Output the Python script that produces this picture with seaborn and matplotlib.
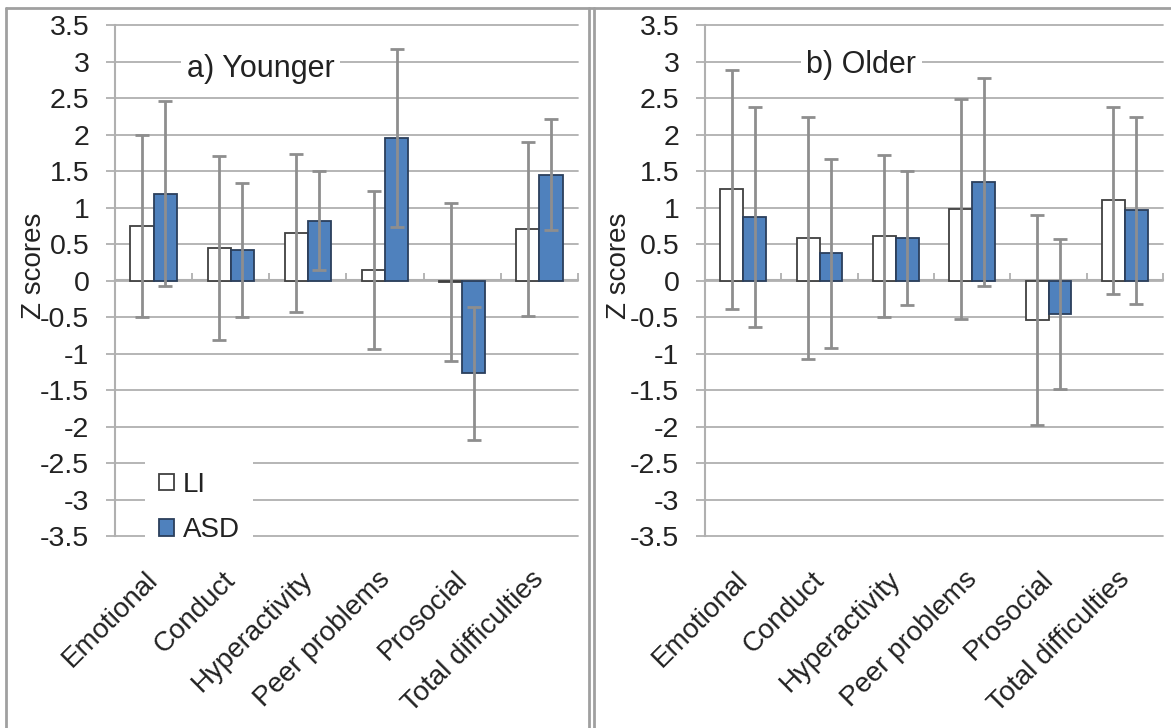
import matplotlib
matplotlib.use("Agg")
import pandas as pd
import seaborn as sns
from matplotlib import pyplot as plt
from matplotlib.patches import Patch
from matplotlib.lines import Line2D
from matplotlib.transforms import ScaledTranslation

categories = ["Emotional", "Conduct", "Hyperactivity", "Peer problems", "Prosocial", "Total difficulties"]
groups = ["LI", "ASD"]

younger_li = [0.75, 0.44, 0.65, 0.14, -0.02, 0.71]
younger_li_err = [1.25, 1.26, 1.08, 1.08, 1.08, 1.19]
younger_asd = [1.19, 0.42, 0.82, 1.95, -1.27, 1.45]
younger_asd_err = [1.27, 0.92, 0.68, 1.22, 0.91, 0.76]

older_li = [1.25, 0.58, 0.61, 0.98, -0.54, 1.10]
older_li_err = [1.64, 1.66, 1.11, 1.51, 1.44, 1.28]
older_asd = [0.87, 0.37, 0.58, 1.35, -0.46, 0.96]
older_asd_err = [1.51, 1.29, 0.92, 1.43, 1.03, 1.28]

y_ticks = [3.5, 3, 2.5, 2, 1.5, 1, 0.5, 0, -0.5, -1, -1.5, -2, -2.5, -3, -3.5]

ASD_BLUE = "#4F81BD"
GRID = "#b0b0b0"
ERR = "#8e8e8e"
TEXT = "#222222"

sns.set_theme(style="white")
plt.rcParams["font.family"] = ["Liberation Sans", "DejaVu Sans"]


def long_table(li, asd):
    return pd.DataFrame({
        "category": categories * 2,
        "group": ["LI"] * len(categories) + ["ASD"] * len(categories),
        "z": li + asd,
    })


def draw_panel(fig, ax, li, li_err, asd, asd_err, title, title_pos, ylab_x):
    df = long_table(li, asd)
    sns.barplot(data=df, x="category", y="z", hue="group", hue_order=groups,
                palette={"LI": "white", "ASD": ASD_BLUE}, saturation=1,
                width=0.6, gap=0, errorbar=None, legend=False,
                linewidth=1.3, edgecolor="#404040", ax=ax, zorder=2)

    # dark navy outline on the blue bars
    for bar in ax.containers[1]:
        bar.set_edgecolor("#2b3f5c")

    # error bars on top of each bar
    for cont, errs in zip(ax.containers, [li_err, asd_err]):
        xs = [p.get_x() + p.get_width() / 2 for p in cont]
        ax.errorbar(xs, cont.datavalues, yerr=errs, fmt="none", ecolor=ERR,
                    elinewidth=2, capsize=5, capthick=2, zorder=3)

    ax.set_ylim(-3.5, 3.5)
    ax.set_xlim(-0.5, len(categories) - 0.5)
    ax.set_yticks(y_ticks)
    ax.set_yticklabels([f"{v:g}" for v in y_ticks])
    ax.yaxis.grid(True, color=GRID, linewidth=1.3, zorder=0)
    ax.set_axisbelow(True)
    for g in ax.get_ygridlines():
        g.set_clip_on(False)

    for s in ["top", "right", "bottom"]:
        ax.spines[s].set_visible(False)
    ax.spines["left"].set_color(GRID)
    ax.spines["left"].set_linewidth(1.5)

    ax.tick_params(axis="y", direction="out", length=6.5, width=1.3, color=GRID,
                   pad=12, labelsize=20.5, labelcolor=TEXT, left=True)
    ax.tick_params(axis="x", length=0, pad=22, labelsize=20, labelcolor=TEXT)
    ax.set_xticks(range(len(categories)))
    ax.set_xticklabels(categories, rotation=45, ha="right", va="top",
                       rotation_mode="anchor")
    nudge = ScaledTranslation(-6 / 72, 0, fig.dpi_scale_trans)
    for lab in ax.get_xticklabels():
        lab.set_transform(lab.get_transform() + nudge)

    # category axis drawn through zero with ticks between groups
    sec = ax.secondary_xaxis(0.5)
    sec.set_xticks([i - 0.5 for i in range(len(categories) + 1)])
    sec.set_xticklabels([])
    sec.tick_params(direction="out", length=5, width=1.3, color=GRID)
    for sp in sec.spines.values():
        sp.set_color(GRID)
        sp.set_linewidth(1.5)

    ax.set_xlabel("")
    ax.set_ylabel("Z scores", fontsize=20, color=TEXT)
    ax.yaxis.set_label_coords(ylab_x, 0.528)

    ax.text(title_pos[0], title_pos[1], title, transform=ax.transAxes,
            ha="center", va="baseline", fontsize=22, color=TEXT, zorder=6,
            bbox=dict(facecolor="white", edgecolor="none", pad=4))


fig = plt.figure(figsize=(11.71, 7.28), dpi=100)
fig.patch.set_facecolor("white")

ax_a = fig.add_axes([115 / 1171, 1 - 536 / 728, 463 / 1171, 511 / 728])
ax_b = fig.add_axes([705 / 1171, 1 - 536 / 728, 458 / 1171, 511 / 728])

draw_panel(fig, ax_a, younger_li, younger_li_err, younger_asd, younger_asd_err,
           "a) Younger", (0.315, 0.898), -0.147)
draw_panel(fig, ax_b, older_li, older_li_err, older_asd, older_asd_err,
           "b) Older", (0.341, 0.906), -0.159)

handles = [Patch(facecolor="white", edgecolor="#404040", linewidth=1.3, label="LI"),
           Patch(facecolor=ASD_BLUE, edgecolor="#2b3f5c", linewidth=1.3, label="ASD")]
leg = ax_a.legend(handles=handles, loc="upper left", bbox_to_anchor=(0.065, 0.153),
                  fontsize=20, frameon=True, fancybox=False, framealpha=1,
                  facecolor="white", edgecolor="none", handlelength=0.55,
                  handleheight=0.55, handletextpad=0.3, labelspacing=0.7,
                  borderaxespad=0, borderpad=0.5)
for t in leg.get_texts():
    t.set_color(TEXT)
leg.set_zorder(6)

# panel frames like the original figure
W, H = 1171, 728
frame = dict(color="#a0a0a0", linewidth=2, transform=fig.transFigure)
fig.add_artist(Line2D([6 / W, 6 / W], [0, 1 - 8 / H], **frame))
fig.add_artist(Line2D([589 / W, 589 / W], [0, 1 - 8 / H], **frame))
fig.add_artist(Line2D([594 / W, 594 / W], [0, 1 - 8 / H], **frame))
fig.add_artist(Line2D([6 / W, 1], [1 - 8 / H, 1 - 8 / H], **frame))

fig.savefig("out.png", dpi=100, facecolor="white")
